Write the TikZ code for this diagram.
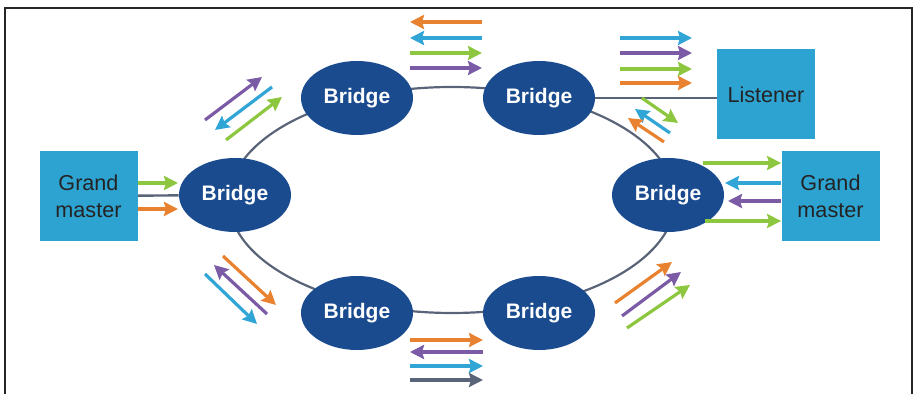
\documentclass[tikz,border=0pt]{standalone}
\usepackage{fontspec}
\setmainfont{Liberation Sans}
\usepackage{xcolor}
\usetikzlibrary{shapes.geometric, arrows.meta, positioning, backgrounds}
\definecolor{bridgeblue}{RGB}{27,75,143}
\definecolor{boxcyan}{RGB}{45,163,209}
\definecolor{flowor}{RGB}{232,130,48}
\definecolor{flowbl}{RGB}{48,165,214}
\definecolor{flowgr}{RGB}{141,198,63}
\definecolor{flowpu}{RGB}{123,90,166}
\definecolor{flowgy}{RGB}{90,100,120}
\definecolor{boxtext}{RGB}{35,35,35}
\tikzset{
    bridge/.style={
        ellipse,
        fill=bridgeblue,
        minimum width=56pt,
        minimum height=37pt,
        inner sep=0pt,
        text=white,
        font=\bfseries\fontsize{10.5}{12}\selectfont
    },
    station/.style={
        rectangle,
        fill=boxcyan,
        minimum width=49pt,
        minimum height=45pt,
        inner sep=0pt,
        align=center,
        text=boxtext,
        font=\fontsize{10.8}{13.5}\selectfont
    },
    ring/.style={
        draw=flowgy,
        line width=1.1pt
    },
    link/.style={
        draw=flowgy,
        line width=1.2pt
    },
    flow/.style={
        line width=1.6pt,
        -{Stealth[length=7pt, width=7pt, inset=1pt]}
    },
    frame/.style={
        draw=black!85,
        line width=0.8pt
    }
}
\begin{document}
\begin{tikzpicture}[x=0.5pt, y=-0.5pt]
\useasboundingbox (0,0) rectangle (917,394);

% Outer frame
\draw[frame] (5,394) -- (5,8) -- (912,8) -- (912,394);

% Bridges on the ring
\node[bridge] (brL) at (235,195) {Bridge};
\node[bridge] (brTL) at (357,98) {Bridge};
\node[bridge] (brTR) at (539,98) {Bridge};
\node[bridge] (brR) at (668,195) {Bridge};
\node[bridge] (brBL) at (357,313) {Bridge};
\node[bridge] (brBR) at (539,313) {Bridge};

% End stations
\node[station] (gmL) at (88.5,196) {Grand\\master};
\node[station] (gmR) at (830.5,196) {Grand\\master};
\node[station] (lst) at (766,94.5) {Listener};

% Ring and links
\begin{scope}[on background layer]
\draw[ring] (452,200) ellipse [x radius=223, y radius=113];
\draw[link] (gmL) -- (brL);
\draw[link] (brTR) -- (brTR -| lst.west);
\end{scope}

% Grand master (left) to bridge
\draw[flow, flowgr] (138,183) -- (178,183);
\draw[flow, flowor] (138,209) -- (178,209);

% Upper left
\draw[flow, flowpu] (205,120) -- (262,77);
\draw[flow, flowbl] (272,87) -- (215,130);
\draw[flow, flowgr] (226,140) -- (282,97);

% Upper middle
\draw[flow, flowor] (482,22) -- (410,22);
\draw[flow, flowbl] (482,38) -- (410,38);
\draw[flow, flowgr] (410,53) -- (482,53);
\draw[flow, flowpu] (410,68) -- (482,68);

% Towards listener
\draw[flow, flowbl] (620,38) -- (692,38);
\draw[flow, flowpu] (620,53) -- (692,53);
\draw[flow, flowgr] (620,69) -- (692,69);
\draw[flow, flowor] (620,83) -- (692,83);

% Upper right
\draw[flow, flowgr] (642,98) -- (678,123);
\draw[flow, flowbl] (670,133) -- (635,109);
\draw[flow, flowor] (664,142) -- (628,118);

% Bridge to grand master (right)
\draw[flow, flowgr] (703,163) -- (gmR.west |- 0,163);
\draw[flow, flowbl] (gmR.west |- 0,183) -- (725,183);
\draw[flow, flowpu] (gmR.west |- 0,201) -- (728,201);
\draw[flow, flowgr] (705,221) -- (gmR.west |- 0,221);

% Lower right
\draw[flow, flowor] (615,303) -- (672,262);
\draw[flow, flowpu] (622,316) -- (681,272);
\draw[flow, flowgr] (627,328) -- (690,285);

% Lower middle
\draw[flow, flowor] (410,340) -- (483,340);
\draw[flow, flowpu] (483,352) -- (410,352);
\draw[flow, flowbl] (410,366) -- (483,366);
\draw[flow, flowgy] (410,380) -- (483,380);

% Lower left
\draw[flow, flowor] (223,256) -- (276,305);
\draw[flow, flowpu] (267,314) -- (214,265);
\draw[flow, flowbl] (205,274) -- (257,324);

\end{tikzpicture}
\end{document}
